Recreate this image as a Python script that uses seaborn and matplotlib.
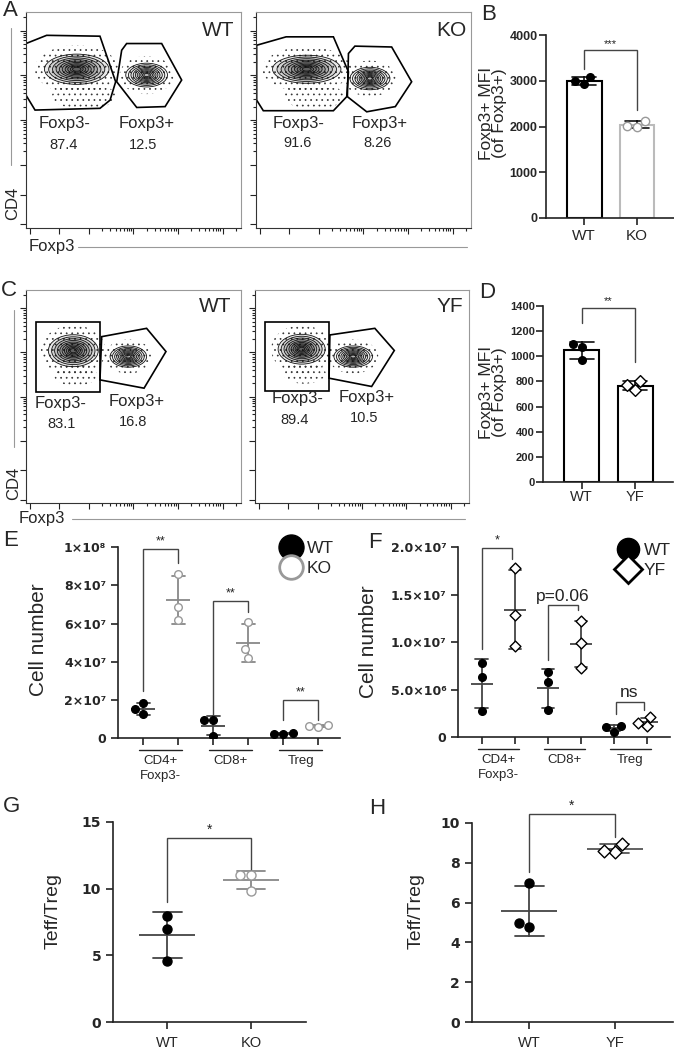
import numpy as np
import pandas as pd
import matplotlib
matplotlib.use('Agg')
import matplotlib.pyplot as plt
import matplotlib.ticker as mticker
from matplotlib.patches import Polygon, Ellipse
from matplotlib.lines import Line2D
import seaborn as sns

# ---------------------------------------------------------------- data
flowA_samples = ['WT', 'KO']
flowA_neg_pct = ['87.4', '91.6']
flowA_pos_pct = ['12.5', '8.26']
flowC_samples = ['WT', 'YF']
flowC_neg_pct = ['83.1', '89.4']
flowC_pos_pct = ['16.8', '10.5']
gate_names = ['Foxp3-', 'Foxp3+']

b_genotypes = ['WT', 'KO']
b_wt_mfi = [3080, 2920, 2990]
b_ko_mfi = [2120, 2000, 2010]

d_genotypes = ['WT', 'YF']
d_wt_mfi = [1100, 1070, 970]
d_yf_mfi = [800, 770, 730]

cell_types = ['CD4+\nFoxp3-', 'CD8+', 'Treg']
e_genotypes = ['WT', 'KO']
e_wt_cd4 = [1.83e7, 1.51e7, 1.25e7]
e_wt_cd8 = [0.95e7, 0.95e7, 0.10e7]
e_wt_treg = [0.28e7, 0.25e7, 0.24e7]
e_ko_cd4 = [8.60e7, 6.87e7, 6.20e7]
e_ko_cd8 = [6.10e7, 4.65e7, 4.20e7]
e_ko_treg = [0.70e7, 0.65e7, 0.60e7]
e_yticks = [0, 2e7, 4e7, 6e7, 8e7, 1e8]
e_yticklabels = ['0', '2×10⁷', '4×10⁷', '6×10⁷', '8×10⁷', '1×10⁸']

f_genotypes = ['WT', 'YF']
f_wt_cd4 = [7.8e6, 6.3e6, 2.8e6]
f_wt_cd8 = [6.85e6, 5.8e6, 2.85e6]
f_wt_treg = [1.1e6, 1.2e6, 0.6e6]
f_yf_cd4 = [17.8e6, 12.9e6, 9.6e6]
f_yf_cd8 = [12.2e6, 9.9e6, 7.3e6]
f_yf_treg = [2.1e6, 1.5e6, 1.2e6]
f_yticks = [0, 5e6, 1e7, 1.5e7, 2e7]
f_yticklabels = ['0', '5.0×10⁶', '1.0×10⁷', '1.5×10⁷', '2.0×10⁷']

g_genotypes = ['WT', 'KO']
g_wt_ratio = [7.95, 6.95, 4.6]
g_ko_ratio = [11.0, 11.0, 9.85]

h_genotypes = ['WT', 'YF']
h_wt_ratio = [7.0, 4.95, 4.75]
h_yf_ratio = [8.95, 8.55, 8.6]

# significance annotations: (left slot, right slot, bracket top, left leg end, right leg end, text)
b_sig = [(0, 1, 3670, 3260, 2360, '***')]
d_sig = [(0, 1, 1387, 1265, 957, '**')]
e_sig = [(0, 1, 9.9e7, 2.45e7, 9.15e7, '**'),
         (2, 3, 7.2e7, 1.15e7, 6.6e7, '**'),
         (4, 5, 2.0e7, 0.95e7, 0.95e7, '**')]
f_sig = [(0, 0.92, 1.99e7, 0.93e7, 1.88e7, '*'),
         (2, 2.92, 1.39e7, 0.81e7, 1.34e7, 'p=0.06'),
         (4.05, 4.9, 3.75e6, 2.5e6, 2.9e6, 'ns')]
g_sig = [(0, 1, 13.76, 9.0, 11.26, '*')]
h_sig = [(0, 1, 10.45, 7.53, 9.28, '*')]

# ---------------------------------------------------------------- style
sns.set_theme(style='ticks')
plt.rcParams['font.family'] = ['Liberation Sans', 'DejaVu Sans']
plt.rcParams['hatch.linewidth'] = 0.5

W, H = 674, 1050
fig = plt.figure(figsize=(W / 100, H / 100), dpi=100)


def rect(x0, y0, x1, y1):
    return [x0 / W, 1 - y1 / H, (x1 - x0) / W, (y1 - y0) / H]


def ftext(x, y, s, **kw):
    fig.text(x / W, 1 - y / H, s, **kw)


def fline(x0, y0, x1, y1, **kw):
    fig.add_artist(Line2D([x0 / W, x1 / W], [1 - y0 / H, 1 - y1 / H],
                          transform=fig.transFigure, **kw))


# ---------------------------------------------------------------- flow panels
contour_scales = [1.0, 0.87, 0.75, 0.64, 0.54, 0.45, 0.36, 0.28, 0.2, 0.13]


def scatter_cloud(ax, cx, cy, hw, hh):
    ax.add_patch(Ellipse((cx, cy), 2 * hw, 2 * hh, transform=ax.transAxes,
                         facecolor='none', edgecolor='#333', hatch='...', linewidth=0))


def population(ax, cx, cy, hw, hh, dark):
    scatter_cloud(ax, cx, cy, hw * 1.3, hh * 1.6)
    for s in contour_scales:
        ax.add_patch(Ellipse((cx, cy), 2 * hw * s, 2 * hh * s, transform=ax.transAxes,
                             facecolor=('black', dark), edgecolor='#111', linewidth=0.6))


def flow_panel(rc, sample, neg_pct, pos_pct, gate_neg, gate_pos, pops, clouds, lbl):
    ax = fig.add_axes(rect(*rc))
    ax.set_xscale('symlog', linthresh=100, linscale=0.6)
    ax.set_yscale('symlog', linthresh=100, linscale=0.6)
    ax.set_xlim(-120, 2.6e5)
    ax.set_ylim(-120, 2.6e5)
    for axis in (ax.xaxis, ax.yaxis):
        axis.set_minor_locator(mticker.SymmetricalLogLocator(
            base=10, linthresh=100, subs=np.arange(2, 10)))
        axis.set_major_formatter(mticker.NullFormatter())
        axis.set_minor_formatter(mticker.NullFormatter())
    ax.tick_params(which='both', direction='out', color='#222', width=0.8, top=False, right=False)
    ax.tick_params(which='major', length=4)
    ax.tick_params(which='minor', length=2)
    for sp in ['left', 'bottom']:
        ax.spines[sp].set_color('#333')
        ax.spines[sp].set_linewidth(0.8)
    for sp in ['top', 'right']:
        ax.spines[sp].set_color('#999')
        ax.spines[sp].set_linewidth(0.8)
    for (cx, cy, hw, hh) in clouds:
        scatter_cloud(ax, cx, cy, hw, hh)
    for (cx, cy, hw, hh, dark) in pops:
        population(ax, cx, cy, hw, hh, dark)
    for g in (gate_neg, gate_pos):
        ax.add_patch(Polygon(g, closed=True, transform=ax.transAxes, fill=False,
                             edgecolor='black', linewidth=1.2))
    ax.text(*lbl[0], gate_names[0], transform=ax.transAxes, ha='center', va='center', fontsize=12)
    ax.text(*lbl[1], neg_pct, transform=ax.transAxes, ha='center', va='center', fontsize=10.5)
    ax.text(*lbl[2], gate_names[1], transform=ax.transAxes, ha='center', va='center', fontsize=12)
    ax.text(*lbl[3], pos_pct, transform=ax.transAxes, ha='center', va='center', fontsize=10.5)
    ax.text(*lbl[4], sample, transform=ax.transAxes, ha='center', va='center', fontsize=15)
    return ax


flow_specs_A = [
    dict(rc=(26, 12, 241, 228),
         gate_neg=[(0, 0.854), (0.096, 0.892), (0.344, 0.888), (0.417, 0.677), (0.391, 0.592),
                   (0.344, 0.554), (0.042, 0.546), (0, 0.615)],
         gate_pos=[(0.445, 0.823), (0.468, 0.854), (0.631, 0.854), (0.724, 0.685), (0.647, 0.562),
                   (0.515, 0.558), (0.422, 0.677)],
         pops=[(0.236, 0.735, 0.15, 0.07, 0.09), (0.561, 0.708, 0.097, 0.055, 0.03)],
         clouds=[(0.27, 0.61, 0.15, 0.06)],
         lbl=[(0.181, 0.485), (0.174, 0.385), (0.561, 0.485), (0.543, 0.385), (0.895, 0.915)]),
    dict(rc=(256, 12, 471, 228),
         gate_neg=[(0.003, 0.846), (0.14, 0.885), (0.36, 0.885), (0.43, 0.723), (0.422, 0.608),
                   (0.36, 0.543), (0.034, 0.543), (0.003, 0.592)],
         gate_pos=[(0.43, 0.808), (0.46, 0.842), (0.631, 0.838), (0.724, 0.677), (0.648, 0.562),
                   (0.515, 0.538), (0.425, 0.608)],
         pops=[(0.236, 0.735, 0.159, 0.065, 0.09), (0.53, 0.692, 0.093, 0.052, 0.03)],
         clouds=[(0.27, 0.61, 0.14, 0.06)],
         lbl=[(0.2, 0.485), (0.192, 0.392), (0.576, 0.485), (0.565, 0.392), (0.91, 0.915)]),
]
flow_specs_C = [
    dict(rc=(26, 290, 241, 503),
         gate_neg=[(0.047, 0.848), (0.344, 0.848), (0.344, 0.523), (0.047, 0.523)],
         gate_pos=[(0.352, 0.781), (0.561, 0.82), (0.651, 0.711), (0.549, 0.539), (0.344, 0.578)],
         pops=[(0.22, 0.715, 0.116, 0.075, 0.09), (0.476, 0.6875, 0.085, 0.05, 0.03)],
         clouds=[(0.23, 0.6, 0.1, 0.05)],
         lbl=[(0.163, 0.469), (0.166, 0.37), (0.515, 0.477), (0.5, 0.38), (0.879, 0.922)]),
    dict(rc=(255, 290, 469, 503),
         gate_neg=[(0.048, 0.852), (0.344, 0.852), (0.344, 0.527), (0.048, 0.527)],
         gate_pos=[(0.35, 0.789), (0.56, 0.82), (0.651, 0.716), (0.545, 0.547), (0.346, 0.586)],
         pops=[(0.218, 0.722, 0.11, 0.07, 0.09), (0.459, 0.6875, 0.09, 0.05, 0.03)],
         clouds=[(0.23, 0.61, 0.1, 0.05)],
         lbl=[(0.197, 0.489), (0.186, 0.388), (0.52, 0.497), (0.51, 0.398), (0.91, 0.922)]),
]

for spec, s, n, p in zip(flow_specs_A, flowA_samples, flowA_neg_pct, flowA_pos_pct):
    flow_panel(spec['rc'], s, n, p, spec['gate_neg'], spec['gate_pos'], spec['pops'],
               spec['clouds'], spec['lbl'])
for spec, s, n, p in zip(flow_specs_C, flowC_samples, flowC_neg_pct, flowC_pos_pct):
    flow_panel(spec['rc'], s, n, p, spec['gate_neg'], spec['gate_pos'], spec['pops'],
               spec['clouds'], spec['lbl'])

# flow axis titles
fline(11, 28, 11, 165, color='#999', linewidth=0.8)
ftext(13, 203, 'CD4', rotation=90, ha='center', va='center', fontsize=12)
ftext(52, 247, 'Foxp3', ha='center', va='center', fontsize=12)
fline(78, 247, 467, 247, color='#999', linewidth=0.8)
fline(14, 310, 14, 447, color='#999', linewidth=0.8)
ftext(14, 483, 'CD4', rotation=90, ha='center', va='center', fontsize=12)
ftext(42, 519, 'Foxp3', ha='center', va='center', fontsize=12)
fline(72, 519, 465, 519, color='#999', linewidth=0.8)


# ---------------------------------------------------------------- helpers
def style_axes(ax, bold_size=9, family='DejaVu Sans'):
    sns.despine(ax=ax)
    for sp in ['left', 'bottom']:
        ax.spines[sp].set_linewidth(1.2)
        ax.spines[sp].set_color('#222')
    ax.tick_params(axis='both', length=5, width=1.2, color='#222')
    for t in ax.get_yticklabels():
        t.set_fontfamily(family)
        t.set_fontweight('bold')
        t.set_fontsize(bold_size)
    ax.set_xlabel('')
    ax.set_ylabel('')


def brackets(ax, sigs, fs, color='#444'):
    for (x0, x1, top, yl, yr, txt) in sigs:
        ax.plot([x0, x0, x1, x1], [yl, top, top, yr], color=color, linewidth=1.0,
                clip_on=False, solid_joinstyle='miter')
        ax.annotate(txt, xy=((x0 + x1) / 2, top), xytext=(0, 1), textcoords='offset points',
                    ha='center', va='bottom', fontsize=fs, color='#222', annotation_clip=False)


def long_df(cells, genos, a_lists, b_lists):
    rows = []
    for c, av, bv in zip(cells, a_lists, b_lists):
        for v in av:
            rows.append((f'{c}|{genos[0]}', genos[0], v))
        for v in bv:
            rows.append((f'{c}|{genos[1]}', genos[1], v))
    order = [f'{c}|{g}' for c in cells for g in genos]
    return pd.DataFrame(rows, columns=['slot', 'genotype', 'value']), order


def dot_layer(ax, df, order, geno, color, mean_color, marker, filled, msize, mean_w, cap):
    sub = df[df.genotype == geno]
    sns.pointplot(data=sub, x='slot', y='value', order=order, errorbar='sd', capsize=cap,
                  linestyle='none', marker='_', markersize=mean_w, markeredgewidth=1.3,
                  color=mean_color, err_kws={'linewidth': 1.3}, ax=ax)
    n0 = len(ax.collections)
    sns.swarmplot(data=sub, x='slot', y='value', order=order, color=color, marker=marker,
                  size=msize, linewidth=1.0, edgecolor=color, ax=ax)
    for c in ax.collections[n0:]:
        if not filled:
            c.set_facecolor('white')
        c.set_edgecolor(color)


def bar_panel(rc, genos, wt, mut, ylim, yticks, sig, mut_edge, mut_marker, mut_color,
              bold_size, xfs, xpad):
    ax = fig.add_axes(rect(*rc))
    df = pd.DataFrame({'genotype': [genos[0]] * len(wt) + [genos[1]] * len(mut),
                       'value': wt + mut})
    sns.barplot(data=df, x='genotype', y='value', order=genos, errorbar='sd', capsize=0.45,
                color='white', edgecolor='black', linewidth=1.5, width=0.66,
                err_kws={'color': '#111', 'linewidth': 1.2}, ax=ax)
    ax.patches[1].set_edgecolor(mut_edge)
    sub = df[df.genotype == genos[0]]
    sns.swarmplot(data=sub, x='genotype', y='value', order=genos, color='black', size=6.5,
                  ax=ax)
    n0 = len(ax.collections)
    sub = df[df.genotype == genos[1]]
    sns.swarmplot(data=sub, x='genotype', y='value', order=genos, color=mut_color,
                  marker=mut_marker, size=6, linewidth=1.0, ax=ax)
    for c in ax.collections[n0:]:
        c.set_facecolor('white')
        c.set_edgecolor(mut_color)
    ax.set_ylim(*ylim)
    ax.set_yticks(yticks)
    ax.set_xlim(-0.72, 1.70)
    style_axes(ax, bold_size, 'Liberation Sans')
    ax.tick_params(axis='y', pad=1)
    ax.tick_params(axis='x', labelsize=xfs, pad=xpad)
    brackets(ax, sig, 8)
    return ax


# ---------------------------------------------------------------- B and D
bar_panel((546, 35, 674, 218), b_genotypes, b_wt_mfi, b_ko_mfi, (0, 4000),
          [0, 1000, 2000, 3000, 4000], b_sig, '#bbb', 'o', '#999', 9, 11, 3)
bar_panel((543, 306, 673, 482), d_genotypes, d_wt_mfi, d_yf_mfi, (0, 1400),
          list(range(0, 1401, 200)), d_sig, 'black', 'D', 'black', 8, 10.5, 1)
ftext(493, 113, 'Foxp3+ MFI\n(of Foxp3+)', rotation=90, ha='center', va='center',
      fontsize=12.5, linespacing=0.85)
ftext(493, 392, 'Foxp3+ MFI\n(of Foxp3+)', rotation=90, ha='center', va='center',
      fontsize=12.5, linespacing=0.85)


# ---------------------------------------------------------------- E and F
def group_panel(rc, genos, a_lists, b_lists, yticks, ylabels, xlim, sig, styles, cap, mean_w,
                legend_xy, legend_markers, sig_fs):
    ax = fig.add_axes(rect(*rc))
    df, order = long_df(cell_types, genos, a_lists, b_lists)
    for g, st in zip(genos, styles):
        dot_layer(ax, df, order, g, st['color'], st['mean'], st['marker'], st['filled'],
                  5.5, mean_w, cap)
    ax.set_ylim(0, yticks[-1])
    ax.set_yticks(yticks)
    ax.set_yticklabels(ylabels)
    ax.set_xlim(*xlim)
    ax.set_xticks(range(len(order)))
    ax.set_xticklabels([''] * len(order))
    style_axes(ax, 9)
    brackets(ax, sig, sig_fs)
    hpx = rc[3] - rc[1]
    tr = ax.get_xaxis_transform()
    for i, c in enumerate(cell_types):
        mid = 2 * i + 0.5
        ax.plot([mid - 0.62, mid + 0.62], [-12 / hpx, -12 / hpx], transform=tr, color='#222',
                linewidth=1.0, clip_on=False)
        ax.text(mid, -17 / hpx, c, transform=tr, ha='center', va='top', fontsize=9.5,
                linespacing=1.35)
    handles = [Line2D([], [], linestyle='none', **m) for m in legend_markers]
    fig.legend(handles, genos, loc='upper left',
               bbox_to_anchor=(legend_xy[0] / W, 1 - legend_xy[1] / H), frameon=False,
               fontsize=12.5, handlelength=1.5, handletextpad=0.15, labelspacing=0.25,
               borderpad=0, borderaxespad=0)
    return ax


axE = group_panel((118, 547, 340, 738.3), e_genotypes, [e_wt_cd4, e_wt_cd8, e_wt_treg],
                  [e_ko_cd4, e_ko_cd8, e_ko_treg], e_yticks, e_yticklabels, (-0.72, 5.62),
                  e_sig,
                  [dict(color='black', mean='#444', marker='o', filled=True),
                   dict(color='#999', mean='#888', marker='o', filled=False)],
                  0.37, 17,
                  (278, 541),
                  [dict(marker='o', markersize=18, markerfacecolor='black', markeredgecolor='black'),
                   dict(marker='o', markersize=17, markerfacecolor='white', markeredgecolor='#999',
                        markeredgewidth=2)], 9)
axF = group_panel((458.3, 547.3, 670, 737.3), f_genotypes, [f_wt_cd4, f_wt_cd8, f_wt_treg],
                  [f_yf_cd4, f_yf_cd8, f_yf_treg], f_yticks, f_yticklabels, (-0.71, 5.7),
                  [s for s in f_sig if s[5] == '*'],
                  [dict(color='black', mean='#444', marker='o', filled=True),
                   dict(color='black', mean='#444', marker='D', filled=False)],
                  0.38, 16.5,
                  (615, 543),
                  [dict(marker='o', markersize=16, markerfacecolor='black', markeredgecolor='black'),
                   dict(marker='D', markersize=14, markerfacecolor='white', markeredgecolor='black',
                        markeredgewidth=2)], 9)
brackets(axF, [s for s in f_sig if s[5] != '*'], 12.5)

ftext(39, 640, 'Cell number', rotation=90, ha='center', va='center', fontsize=15)
ftext(369, 642, 'Cell number', rotation=90, ha='center', va='center', fontsize=15)


# ---------------------------------------------------------------- G and H
def ratio_panel(rc, genos, wt, mut, yticks, xlim, sig, mut_style, mean_w):
    ax = fig.add_axes(rect(*rc))
    df = pd.DataFrame({'slot': [genos[0]] * len(wt) + [genos[1]] * len(mut),
                       'genotype': [genos[0]] * len(wt) + [genos[1]] * len(mut),
                       'value': wt + mut})
    dot_layer(ax, df, genos, genos[0], 'black', '#444', 'o', True, 6.5, mean_w, 0.34)
    dot_layer(ax, df, genos, genos[1], mut_style['color'], mut_style['mean'], mut_style['marker'],
              False, 6.5, mean_w, 0.34)
    ax.set_ylim(0, yticks[-1])
    ax.set_yticks(yticks)
    ax.set_xlim(*xlim)
    style_axes(ax, 10)
    ax.tick_params(axis='x', labelsize=10.5, pad=5)
    brackets(ax, sig, 10)
    return ax


ratio_panel((113, 821.7, 306, 1022.3), g_genotypes, g_wt_ratio, g_ko_ratio, [0, 5, 10, 15],
            (-0.65, 1.66), g_sig, dict(color='#999', mean='#888', marker='o'), 40)
ratio_panel((471.7, 822.7, 673, 1022.3), h_genotypes, h_wt_ratio, h_yf_ratio,
            [0, 2, 4, 6, 8, 10], (-0.67, 1.68), h_sig, dict(color='black', mean='#555', marker='D'),
            41)
ftext(53, 911, 'Teff/Treg', rotation=90, ha='center', va='center', fontsize=14)
ftext(416, 911, 'Teff/Treg', rotation=90, ha='center', va='center', fontsize=14)

# ---------------------------------------------------------------- panel letters
for letter, x, y in [('A', 10, 11), ('B', 489, 14), ('C', 9, 291), ('D', 487, 292),
                     ('E', 11, 541), ('F', 375, 542), ('G', 12, 806), ('H', 377, 808)]:
    ftext(x, y, letter, ha='center', va='center', fontsize=16)

fig.savefig('out.png', dpi=100)
